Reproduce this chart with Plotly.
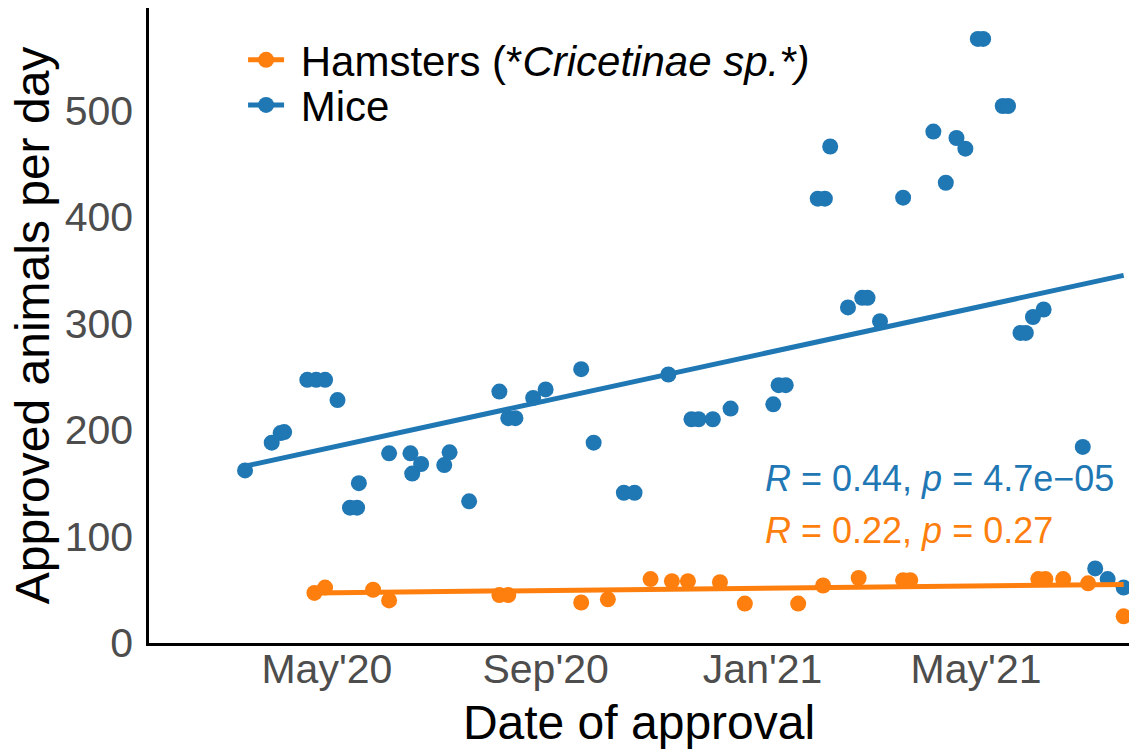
import pandas as pd
import plotly.graph_objects as go

# ---- data ----
mice_dates = [
    "2020-03-16", "2020-03-31", "2020-04-05", "2020-04-07", "2020-04-20", "2020-04-25",
    "2020-04-30", "2020-05-07", "2020-05-14", "2020-05-18", "2020-05-19", "2020-06-05",
    "2020-06-17", "2020-06-18", "2020-06-23", "2020-07-06", "2020-07-09", "2020-07-20",
    "2020-08-06", "2020-08-11", "2020-08-15", "2020-08-25", "2020-09-01", "2020-09-21",
    "2020-09-28", "2020-10-15", "2020-10-21", "2020-11-09", "2020-11-22", "2020-11-26",
    "2020-12-04", "2020-12-14", "2021-01-07", "2021-01-10", "2021-01-14", "2021-02-01",
    "2021-02-05", "2021-02-08", "2021-02-18", "2021-02-26", "2021-03-01", "2021-03-08",
    "2021-03-21", "2021-04-07", "2021-04-14", "2021-04-20", "2021-04-25", "2021-05-02",
    "2021-05-05", "2021-05-16", "2021-05-19", "2021-05-26", "2021-05-29", "2021-06-02",
    "2021-06-08", "2021-06-30", "2021-07-07", "2021-07-14", "2021-07-23",
]
mice_values = [
    162, 188, 197, 198, 247, 247,
    247, 228, 127, 127, 150, 178,
    178, 159, 168, 167, 179, 133,
    236, 211, 211, 230, 238, 257,
    188, 141, 141, 252, 210, 210,
    210, 220, 224, 242, 242, 417,
    417, 466, 315, 324, 324, 302,
    418, 480, 432, 474, 464, 567,
    567, 504, 504, 291, 291, 306,
    313, 184, 70, 60, 52,
]

hamster_dates = [
    "2020-04-24", "2020-04-30", "2020-05-27", "2020-06-05", "2020-08-06", "2020-08-11",
    "2020-09-21", "2020-10-06", "2020-10-30", "2020-11-11", "2020-11-20", "2020-12-08",
    "2020-12-22", "2021-01-21", "2021-02-04", "2021-02-24", "2021-03-21", "2021-03-25",
    "2021-06-05", "2021-06-09", "2021-06-19", "2021-07-03", "2021-07-23",
]
hamster_values = [
    47, 52, 50, 40, 45, 45,
    38, 41, 60, 58, 58, 57,
    37, 37, 54, 61, 59, 59,
    60, 60, 60, 56, 25,
]

# linear-fit (geom_smooth lm) end values, at first/last date
mice_fit_ends = [166, 345]
hamster_fit_ends = [47, 55]

tick_dates = ["2020-05-01", "2020-09-01", "2021-01-01", "2021-05-01"]
tick_labels = ["May'20", "Sep'20", "Jan'21", "May'21"]
y_ticks = [0, 100, 200, 300, 400, 500]

stat_mice = "<i>R</i> = 0.44, <i>p</i> = 4.7e\u221205"
stat_hamster = "<i>R</i> = 0.22, <i>p</i> = 0.27"

ORANGE = "#FF7F0E"
BLUE = "#1F77B4"
FONT = "Liberation Sans, Arial, sans-serif"

series = [
    (hamster_dates, hamster_values, hamster_fit_ends, ORANGE),
    (mice_dates, mice_values, mice_fit_ends, BLUE),
]

fig = go.Figure()

for dates, values, _, color in series:
    fig.add_trace(go.Scatter(
        x=pd.to_datetime(dates), y=values, mode="markers",
        marker=dict(size=16, color=color), showlegend=False))

for dates, _, ends, color in series:
    d = pd.to_datetime(dates)
    fig.add_trace(go.Scatter(x=[d.min(), d.max()], y=ends, mode="lines",
                             line=dict(color=color, width=5), showlegend=False))

# legend-only entries
fig.add_trace(go.Scatter(x=[None], y=[None], mode="lines+markers",
                         name="\u00a0Hamsters (*<i>Cricetinae sp.*)</i>",
                         line=dict(color=ORANGE, width=5), marker=dict(size=16, color=ORANGE),
                         legend="legend"))
fig.add_trace(go.Scatter(x=[None], y=[None], mode="lines+markers", name="\u00a0Mice",
                         line=dict(color=BLUE, width=5), marker=dict(size=16, color=BLUE),
                         legend="legend2"))

fig.add_annotation(x=0.627, xref="paper", y=154, yref="y", text=stat_mice,
                   showarrow=False, xanchor="left", yanchor="middle",
                   font=dict(size=36, color=BLUE, family=FONT))
fig.add_annotation(x=0.627, xref="paper", y=106, yref="y", text=stat_hamster,
                   showarrow=False, xanchor="left", yanchor="middle",
                   font=dict(size=36, color=ORANGE, family=FONT))

legend_common = dict(font=dict(size=42, color="black", family=FONT),
                     bgcolor="rgba(0,0,0,0)", xanchor="left", yanchor="middle",
                     itemwidth=36, borderwidth=0)

fig.update_layout(
    width=1129, height=749,
    margin=dict(l=149, r=0, t=8, b=106, autoexpand=False),
    paper_bgcolor="white", plot_bgcolor="white",
    font=dict(family=FONT, color="black"),
    legend=dict(x=0.096, y=0.918, **legend_common),
    legend2=dict(x=0.096, y=0.847, **legend_common),
    xaxis=dict(
        type="date", automargin=False,
        range=["2020-01-22", "2021-07-26"],
        tickvals=pd.to_datetime(tick_dates), ticktext=tick_labels,
        showgrid=False, zeroline=False, ticks="",
        ticklabelstandoff=-12,
        showline=True, linecolor="black", linewidth=2.5,
        tickfont=dict(size=41, color="#4D4D4D", family=FONT),
        title=dict(text="Date of approval", font=dict(size=48, color="black", family=FONT),
                   standoff=23),
    ),
    yaxis=dict(
        automargin=False,
        range=[0, 596],
        tickvals=y_ticks,
        showgrid=False, zeroline=False, ticks="",
        ticklabelstandoff=5,
        showline=True, linecolor="black", linewidth=2.5,
        tickfont=dict(size=41, color="#4D4D4D", family=FONT),
        title=dict(text="Approved animals per day", font=dict(size=48, color="black", family=FONT),
                   standoff=0),
    ),
)

# remove the default page margin so the figure fills the window exactly; hide the modebar
fig.write_html("out.html", config={"displayModeBar": False},
               post_script="document.body.style.margin='0';")
